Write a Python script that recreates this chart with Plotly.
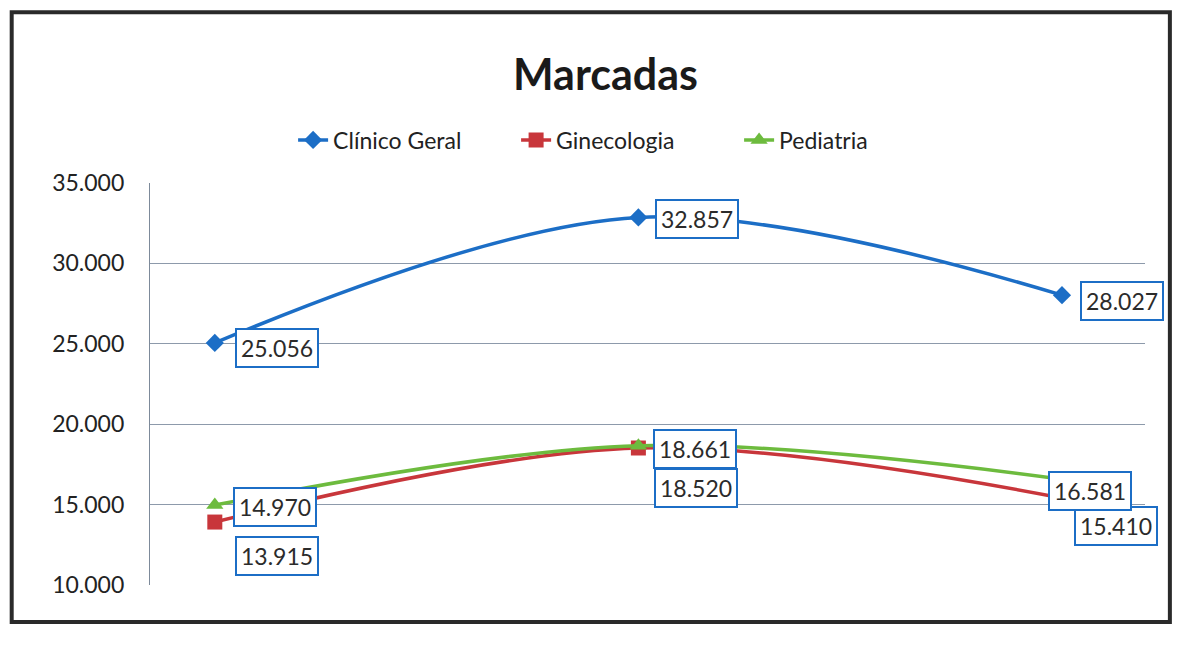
import plotly.graph_objects as go

# categories (no labels are printed on the x axis in the original)
periodos = [1, 2, 3]

clinico_geral = [25056, 32857, 28027]
ginecologia = [13915, 18520, 15410]
pediatria = [14970, 18661, 16581]

y_ticks = [10000, 15000, 20000, 25000, 30000, 35000]

BLUE = "#1c6ec6"
RED = "#c8363b"
GREEN = "#6dbb3e"
FONT = "Lato"


def fmt(v):
    return f"{v:,}".replace(",", ".")


fig = go.Figure()

fig.add_trace(go.Scatter(
    x=periodos, y=clinico_geral, name="Clínico Geral",
    mode="lines+markers", line=dict(color=BLUE, width=3.5, shape="spline"),
    marker=dict(symbol="diamond", size=14, color=BLUE)
))
fig.add_trace(go.Scatter(
    x=periodos, y=ginecologia, name="Ginecologia",
    mode="lines+markers", line=dict(color=RED, width=3.5, shape="spline"),
    marker=dict(symbol="square", size=15, color=RED)
))
fig.add_trace(go.Scatter(
    x=periodos, y=pediatria, name="Pediatria",
    mode="lines+markers", line=dict(color=GREEN, width=3.5, shape="spline"),
    marker=dict(symbol="triangle-up", size=15, color=GREEN)
))


def label(x, y, xshift, yshift):
    fig.add_annotation(
        x=x, y=y, xref="x", yref="y", text=fmt(y), showarrow=False,
        xanchor="left", yanchor="middle", xshift=xshift, yshift=yshift,
        font=dict(family=FONT, size=23, color="#2b2b2b"),
        bgcolor="white", bordercolor=BLUE, borderwidth=2, borderpad=4
    )


# ginecologia labels sit just under the pediatria ones
for x, y, xs, ys in zip(periodos, ginecologia, [20, 16, 12], [-34, -40, -28]):
    label(x, y, xs, ys)
for x, y, xs, ys in zip(periodos, pediatria, [18, 15, -14], [-2, -3, -12]):
    label(x, y, xs, ys)
for x, y, xs, ys in zip(periodos, clinico_geral, [20, 17, 18], [-5, -2, -6]):
    label(x, y, xs, ys)

# outer frame of the chart
fig.add_shape(
    type="rect", xref="paper", yref="paper",
    x0=-0.139, x1=1.025, y0=-0.092, y1=1.425,
    line=dict(color="#2a2a2a", width=4), fillcolor="rgba(0,0,0,0)", layer="below"
)

fig.update_layout(
    width=1195, height=647,
    paper_bgcolor="white", plot_bgcolor="white",
    margin=dict(l=142, r=58, t=175, b=70),
    separators=",.",
    font=dict(family=FONT, color="#222"),
    title=dict(text="<b>Marcadas</b>", x=0.5, xanchor="center",
               y=0.896, yanchor="middle",
               font=dict(family=FONT, size=43, color="#1a1a1a")),
    legend=dict(orientation="h", x=0.48, xanchor="center",
                y=1.107, yanchor="middle",
                font=dict(family=FONT, size=23, color="#222"),
                entrywidth=178, entrywidthmode="pixels",
                bgcolor="rgba(0,0,0,0)"),
    showlegend=True,
)

fig.update_xaxes(range=[0.847, 3.196], showticklabels=False, showgrid=False,
                 zeroline=False, showline=False, ticks="")
fig.update_yaxes(range=[10000, 35000], tickvals=y_ticks, tickformat=",.0f",
                 showgrid=True, gridcolor="#8d9aab", gridwidth=1.2,
                 showline=True, linecolor="#7d8a9a", linewidth=1.2,
                 zeroline=False, ticks="", ticklabelstandoff=20,
                 tickfont=dict(family=FONT, size=23, color="#222"))

fig.write_html("out.html")
